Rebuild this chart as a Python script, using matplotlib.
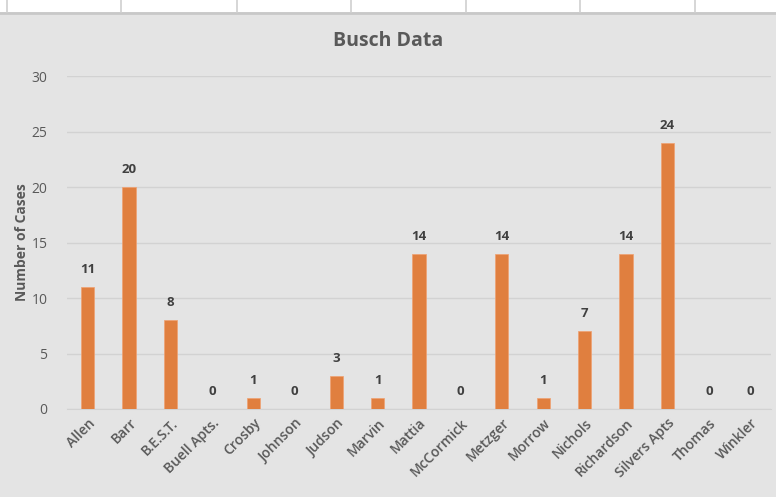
import matplotlib.pyplot as plt
import matplotlib.patches as mpatches
import matplotlib.lines as mlines

names = ["Allen", "Barr", "B.E.S.T.", "Buell Apts.", "Crosby", "Johnson", "Judson",
         "Marvin", "Mattia", "McCormick", "Metzger", "Morrow", "Nichols",
         "Richardson", "Silvers Apts", "Thomas", "Winkler"]
cases = [11, 20, 8, 0, 1, 0, 3, 1, 14, 0, 14, 1, 7, 14, 24, 0, 0]
yticks = [0, 5, 10, 15, 20, 25, 30]

BG = "#e4e4e4"
TXT = "#595959"
BAR = "#e07f3f"
plt.rcParams["font.family"] = ["Open Sans", "DejaVu Sans"]

W, H = 776, 497
fig = plt.figure(figsize=(W / 100, H / 100), dpi=100, facecolor=BG)

# spreadsheet strip across the top
fig.patches.append(mpatches.Rectangle((0, 1 - 12 / H), 1, 12 / H, transform=fig.transFigure,
                                      facecolor="white", edgecolor="none", zorder=0))
fig.lines.append(mlines.Line2D([0, 1], [1 - 13 / H, 1 - 13 / H], transform=fig.transFigure,
                               color="#c8c8c8", lw=2))
for x in [7, 121, 237, 351, 466, 580, 695]:
    fig.lines.append(mlines.Line2D([x / W, x / W], [1 - 12 / H, 1], transform=fig.transFigure,
                                   color="#d0d0d0", lw=1.2))

ax = fig.add_axes([67 / W, (H - 409) / H, (771 - 67) / W, (409 - 76) / H])
ax.set_facecolor(BG)
x = list(range(len(names)))
ax.bar(x, cases, width=0.32, color=BAR, edgecolor="#f0a070", linewidth=0.5, zorder=3)
for xi, v in zip(x, cases):
    ax.text(xi, v + 1.0, str(v), ha="center", va="bottom", fontsize=9.5,
            fontweight="bold", color="#404040")

ax.set_xlim(-0.5, len(names) - 0.5)
ax.set_ylim(0, 30)
ax.set_yticks(yticks)
ax.grid(axis="y", color="#d2d2d2", lw=1, zorder=0)
for s in ["top", "right", "left"]:
    ax.spines[s].set_visible(False)
ax.spines["bottom"].set_color("#d2d2d2")
ax.tick_params(length=0, colors=TXT, labelsize=10)
ax.tick_params(axis="y", pad=14)
ax.tick_params(axis="x", pad=5)
ax.set_xticks(x)
ax.set_xticklabels(names, rotation=45, ha="right", rotation_mode="anchor",
                   fontsize=10, fontweight="semibold", color=TXT)
for t in ax.get_yticklabels():
    t.set_color(TXT)
ax.set_ylabel("Number of Cases", fontsize=10, fontweight="bold", color=TXT, labelpad=2)
fig.text(0.5, 1 - 41 / H, "Busch Data", ha="center", va="center", fontsize=14,
         fontweight="bold", color=TXT)

fig.savefig("out.png", dpi=100, facecolor=BG)
